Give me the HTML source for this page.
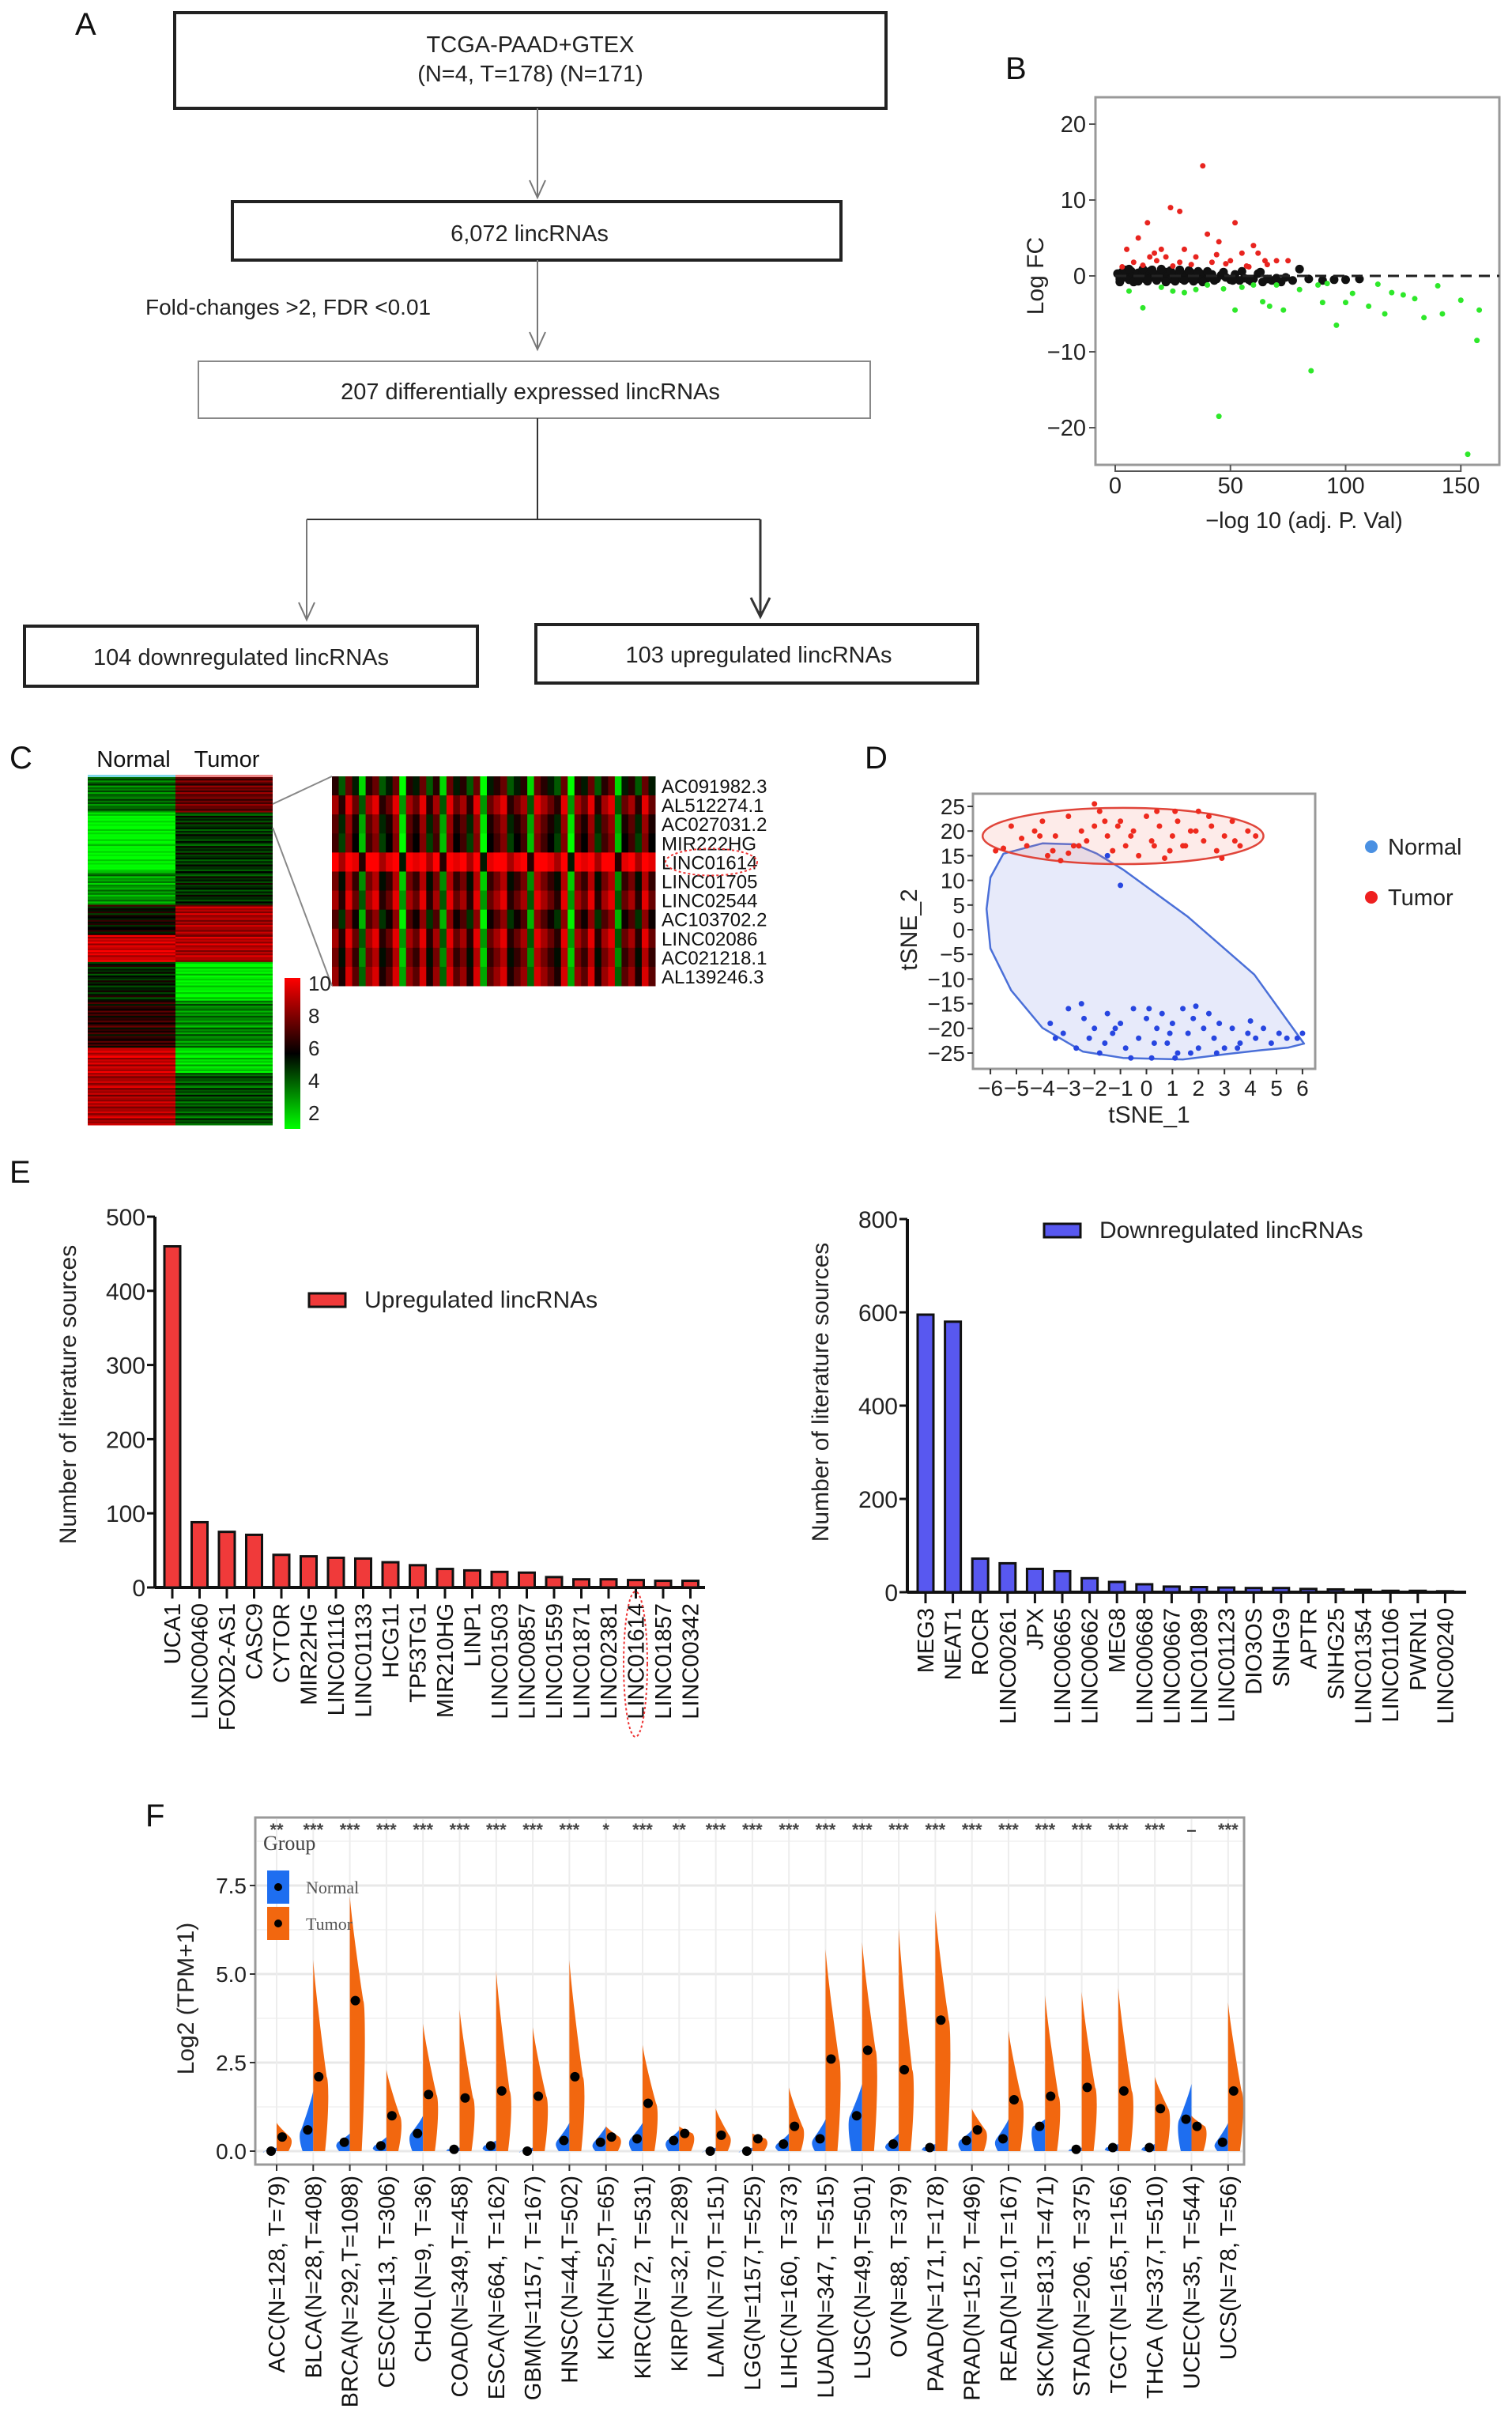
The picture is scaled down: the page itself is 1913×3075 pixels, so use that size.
<!DOCTYPE html>
<html><head><meta charset="utf-8"><title>lincRNA figure</title>
<style>
html,body{margin:0;padding:0;background:#fff;}
svg{display:block;font-family:"Liberation Sans",sans-serif;}
</style></head>
<body>
<svg id="fig" xmlns="http://www.w3.org/2000/svg" width="1913" height="3075" viewBox="0 0 1913 3075">
<rect x="0" y="0" width="1913" height="3075" fill="#fff"/>
<!-- Panel A flowchart -->
<g fill="none" stroke="#222">
  <text x="95" y="44" font-size="40" fill="#111" stroke="none">A</text>
  <rect x="221" y="16" width="900" height="121" stroke-width="4"/>
  <text x="671" y="66" font-size="29" fill="#222" stroke="none" text-anchor="middle">TCGA-PAAD+GTEX</text>
  <text x="671" y="103" font-size="29" fill="#222" stroke="none" text-anchor="middle">(N=4, T=178) (N=171)</text>
  <line x1="680" y1="137" x2="680" y2="249" stroke="#777" stroke-width="2"/>
  <polyline points="670,228 680,250 690,228" stroke="#777" stroke-width="2"/>
  <rect x="294" y="255" width="770" height="74" stroke-width="4"/>
  <text x="670" y="305" font-size="29" fill="#222" stroke="none" text-anchor="middle">6,072 lincRNAs</text>
  <line x1="680" y1="329" x2="680" y2="441" stroke="#777" stroke-width="2"/>
  <polyline points="670,420 680,442 690,420" stroke="#777" stroke-width="2"/>
  <text x="184" y="398" font-size="28" fill="#222" stroke="none">Fold-changes &gt;2, FDR &lt;0.01</text>
  <rect x="251" y="457" width="850" height="72" stroke="#888" stroke-width="2"/>
  <text x="671" y="505" font-size="29" fill="#222" stroke="none" text-anchor="middle">207 differentially expressed lincRNAs</text>
  <line x1="680" y1="529" x2="680" y2="657" stroke="#333" stroke-width="2"/>
  <line x1="388" y1="657" x2="962" y2="657" stroke="#333" stroke-width="2"/>
  <line x1="388" y1="657" x2="388" y2="784" stroke="#777" stroke-width="2"/>
  <polyline points="378,762 388,784 398,762" stroke="#777" stroke-width="2"/>
  <line x1="962" y1="657" x2="962" y2="780" stroke="#333" stroke-width="3"/>
  <polyline points="950,756 962,780 974,756" stroke="#333" stroke-width="3"/>
  <rect x="31" y="792" width="573" height="76" stroke-width="4"/>
  <text x="305" y="841" font-size="29" fill="#222" stroke="none" text-anchor="middle">104 downregulated lincRNAs</text>
  <rect x="678" y="790" width="559" height="74" stroke-width="4"/>
  <text x="960" y="838" font-size="29" fill="#222" stroke="none" text-anchor="middle">103 upregulated lincRNAs</text>
</g>
<g id="panelB"></g>
<g id="panelC"></g>
<g id="panelD"></g>
<g id="panelE"></g>
<g id="panelF"></g>
</svg>
<script>
// ===== Panel B volcano data =====
const volRedX=[38,24,28,14,52,10,40,45,30,60,5,20,62,55,15,35,65,70,75,8,18,28,42,50,12,25,33,58,3,22,48,17,44,57,66];
const volRedY=[14.5,9,8.5,7,7,5,5.5,4.5,3.5,4,3.5,3.5,3,3,2.5,2.5,2,2,2,1.8,2,1.8,1.8,2,1.4,1.3,1.5,1.2,1.2,2.5,1.6,3,2.8,1.3,1.5];
const volGreenX=[45,153,85,157,96,134,142,117,110,67,73,52,158,125,130,150,100,103,90,12,6,20,30,40,55,60,70,80,88,114,120,140,35,25,64,47,92];
const volGreenY=[-18.5,-23.5,-12.5,-8.5,-6.5,-5.5,-5,-5,-4,-4,-4.5,-4.5,-4.5,-2.5,-3,-3.2,-3.5,-2.3,-3.5,-4.2,-2,-1.5,-2.2,-1.2,-1.5,-1.2,-1.2,-1.8,-1.2,-1.1,-2.2,-1.3,-1.8,-2,-3.4,-1.7,-1];
const volBlackX=[1,2,3,4,5,6,7,8,9,10,11,12,13,14,15,16,17,18,19,20,21,22,23,24,25,26,27,28,29,30,31,32,33,34,35,36,37,38,39,40,42,44,46,48,50,52,54,56,58,60,62,64,66,68,70,72,74,77,80,84,90,95,100,106,2,4,6,8,10,12,14,16,18,20,22,24,26,28,30,32,34,36,38,40,43,47,51,55,59,63];
const volBlackY=[0.3,-0.4,0.5,-0.2,0.2,-0.5,0.6,0.1,-0.3,0.4,-0.1,0.5,-0.4,0.2,0.6,-0.2,0.3,-0.5,0.1,0.4,-0.3,0.5,0.0,-0.4,0.3,0.1,-0.2,0.5,-0.4,0.2,0.0,-0.3,0.4,-0.1,0.2,-0.4,0.3,-0.2,0.1,-0.3,0.2,-0.4,0.1,-0.2,-0.5,0.2,-0.6,-0.3,-0.5,-0.4,0.3,-0.8,-0.4,-0.6,-0.3,-0.8,-0.2,-0.6,0.9,-0.4,-0.6,-0.5,-0.5,-0.4,-0.8,0.8,0.9,-0.8,-0.7,0.9,-0.7,0.8,-0.6,0.9,-0.8,0.7,-0.7,0.8,-0.6,0.7,-0.7,0.6,-0.8,0.6,-0.6,0.5,-0.6,0.6,-0.7,0.5];
const volYTicks=[20,10,0,-10,-20];
const volXTicks=[0,50,100,150];

// ===== Panel C heatmap data =====
const hmBandRows=[21,35,20,18,16,23,28,15,31];
const hmNormalVals=[4.3,2.0,3.6,6.0,9.2,5.5,6.6,9.0,8.6];
const hmTumorVals=[7.6,5.3,5.4,8.6,8.8,2.3,4.0,2.6,4.8];
const hmRowMod=[0,0.8,-0.6,0.3,1.1,-0.9,0.2,-0.3,0.7,-1.0,0.4,0,-0.5,0.9,-0.2,0.6,-0.8,0.1];
const zoomGenes=["AC091982.3","AL512274.1","AC027031.2","MIR222HG","LINC01614","LINC01705","LINC02544","AC103702.2","LINC02086","AC021218.1","AL139246.3"];
const zoomRowBase=[5.6,7.6,6.4,6.0,9.6,6.8,7.6,6.2,7.6,6.8,7.4];
const zoomColMod=[1,-1,2,0,-3,1,2,-1,0,2,-4,1,0,2,-1,1,-3,2,0,1,-1,2,-4,0,1,2,-1,0,1,-3,2,1,0,-1,2,-4,1,0,2,-1,1,2,-3,0,1,-1,2,0];
const cbarTicks=[10,8,6,4,2];

// ===== Panel D tSNE data =====
const tumorX=[-5.8,-5.5,-5.2,-4.8,-4.6,-4.3,-4.0,-3.8,-3.5,-3.3,-3.0,-2.8,-2.5,-2.3,-2.0,-1.8,-1.5,-1.3,-1.0,-0.8,-0.5,-0.3,0.0,0.2,0.5,0.7,1.0,1.2,1.5,1.7,2.0,2.2,2.5,2.7,3.0,3.3,3.6,3.9,4.2,-3.6,-2.6,-1.6,-0.6,0.4,1.4,2.4,3.4,-1.1,0.9,1.9,-2.0,-4.1,-3.0,0.3,2.9,1.1];
const tumorY=[16,16.5,21,18.5,17,20,22,15,19,14,23,17,20,18,21,24,19,16,22,17,20,15,23,18,21,14.5,19,22,17,20,24,18,21,16,19,22,17,20,19,16,17,22,19,24,17,23,18,21,16,20,25.5,19,15.5,17,14.5,24];
const normalX=[-3.7,-3.5,-3.2,-3.0,-2.7,-2.4,-2.2,-2.0,-1.8,-1.5,-1.3,-1.0,-0.8,-0.5,-0.3,0.0,0.2,0.4,0.6,0.8,1.0,1.2,1.4,1.6,1.8,2.0,2.2,2.4,2.6,2.8,3.0,3.3,3.6,3.9,4.2,4.5,4.8,5.1,5.4,5.8,6.0,-1.6,-0.6,0.3,1.1,1.9,2.7,3.5,-2.5,-1.2,0.1,0.9,1.7,4.0,-1.0,-1.5];
const normalY=[-19,-22,-21,-16,-24,-18,-22,-20,-25,-17,-21,-19,-24,-16,-22,-18,-26,-20,-17,-23,-19,-25,-16,-21,-18,-24,-20,-17,-22,-19,-24,-20,-23,-21,-22,-20,-23,-21,-22,-22,-21,-23,-26,-23,-26,-15.5,-25,-24,-15,-20,-16,-21,-25,-18.5,9,15];
const tsneTicksX=[-6,-5,-4,-3,-2,-1,0,1,2,3,4,5,6];
const tsneTicksY=[25,20,15,10,5,0,-5,-10,-15,-20,-25];

// ===== Panel E bar data =====
const upGenes=["UCA1","LINC00460","FOXD2-AS1","CASC9","CYTOR","MIR22HG","LINC01116","LINC01133","HCG11","TP53TG1","MIR210HG","LINP1","LINC01503","LINC00857","LINC01559","LINC01871","LINC02381","LINC01614","LINC01857","LINC00342"];
const upValues=[460,88,75,71,44,42,40,39,34,30,25,23,21,20,14,11,11,10,9,9];
const upTicks=[0,100,200,300,400,500];
const downGenes=["MEG3","NEAT1","ROCR","LINC00261","JPX","LINC00665","LINC00662","MEG8","LINC00668","LINC00667","LINC01089","LINC01123","DIO3OS","SNHG9","APTR","SNHG25","LINC01354","LINC01106","PWRN1","LINC00240"];
const downValues=[595,580,72,62,50,45,30,22,17,12,11,10,9,9,7,6,5,3,3,2];
const downTicks=[0,200,400,600,800];

// ===== Panel F violin data =====
const cancerLabels=["ACC(N=128, T=79)","BLCA(N=28,T=408)","BRCA(N=292,T=1098)","CESC(N=13, T=306)","CHOL(N=9, T=36)","COAD(N=349,T=458)","ESCA(N=664, T=162)","GBM(N=1157, T=167)","HNSC(N=44,T=502)","KICH(N=52,T=65)","KIRC(N=72, T=531)","KIRP(N=32,T=289)","LAML(N=70,T=151)","LGG(N=1157,T=525)","LIHC(N=160, T=373)","LUAD(N=347, T=515)","LUSC(N=49,T=501)","OV(N=88, T=379)","PAAD(N=171,T=178)","PRAD(N=152, T=496)","READ(N=10,T=167)","SKCM(N=813,T=471)","STAD(N=206, T=375)","TGCT(N=165,T=156)","THCA (N=337,T=510)","UCEC(N=35, T=544)","UCS(N=78, T=56)"];
const normalMedian=[0,0.6,0.25,0.15,0.5,0.05,0.15,0,0.3,0.25,0.35,0.3,0,0,0.2,0.35,1.0,0.2,0.1,0.3,0.35,0.7,0.05,0.1,0.1,0.9,0.25];
const normalMax=[0.1,1.7,0.5,0.4,1.0,0.1,0.3,0.1,0.8,0.7,0.8,0.6,0.1,0.1,0.5,0.9,1.9,0.5,0.2,0.6,0.9,0.9,0.1,0.2,0.2,1.9,0.8];
const tumorMedian=[0.4,2.1,4.25,1.0,1.6,1.5,1.7,1.55,2.1,0.4,1.35,0.5,0.45,0.35,0.7,2.6,2.85,2.3,3.7,0.6,1.45,1.55,1.8,1.7,1.2,0.7,1.7];
const tumorMax=[0.8,5.4,7.2,2.3,3.6,4.0,5.1,3.5,5.4,0.7,3.0,0.7,1.2,0.5,1.8,5.7,5.9,6.3,6.8,1.2,3.4,4.4,4.5,4.6,2.1,1.0,4.2];
const sigLabels=["**","***","***","***","***","***","***","***","***","*","***","**","***","***","***","***","***","***","***","***","***","***","***","***","***","–","***"];
const violinYTicks=[0,2.5,5,7.5];

const NS="http://www.w3.org/2000/svg";
function mk(parent,tag,attrs,txt){const e=document.createElementNS(NS,tag);for(const k in attrs)e.setAttribute(k,attrs[k]);if(txt!==undefined)e.textContent=txt;parent.appendChild(e);return e;}

// ---------- Panel B ----------
(function(){
const g=document.getElementById('panelB');
const x=v=>1411+v*2.915, y=v=>349-v*9.6;
let t=mk(g,'text',{x:1272,y:100,'font-size':40,fill:'#111'},'B');


let fr=mk(g,'rect',{x:1386,y:123,width:511,height:465,fill:'none',stroke:'#999','stroke-width':3});


volYTicks.forEach(v=>{
 let l=mk(g,'line',{x1:1378,x2:1386,y1:y(v),y2:y(v),stroke:'#555','stroke-width':2});
 
 
 let tt=mk(g,'text',{x:1374,y:y(v)+10,'font-size':29,'text-anchor':'end',fill:'#222'},v>0?String(v):(v<0?'−'+(-v):'0'));
 
 
});
mk(g,'line',{x1:1411,x2:1848,y1:596,y2:596,stroke:'#555','stroke-width':2});
volXTicks.forEach(v=>{
 let l=mk(g,'line',{x1:x(v),x2:x(v),y1:588,y2:597,stroke:'#555','stroke-width':2});
 
 
 let tt=mk(g,'text',{x:x(v),y:614+10,'font-size':29,'text-anchor':'middle',fill:'#222'},String(v));
 
 
});
let yt=mk(g,'text',{x:1320,y:349,'font-size':30,'text-anchor':'middle',fill:'#222',transform:'rotate(-90 1320 349)'},'Log FC');


let xt=mk(g,'text',{x:1650,y:668,'font-size':29,'text-anchor':'middle',fill:'#222'},'−log 10 (adj. P. Val)');


volBlackX.forEach((v,i)=>{let c=mk(g,'circle',{cx:x(v),cy:y(volBlackY[i]),r:5.5,fill:'#111'});
 
 });
volRedX.forEach((v,i)=>{let c=mk(g,'circle',{cx:x(v),cy:y(volRedY[i]),r:3.5,fill:'#e8241f'});
 
 });
volGreenX.forEach((v,i)=>{let c=mk(g,'circle',{cx:x(v),cy:y(volGreenY[i]),r:3.5,fill:'#2ee82a'});
 
 });
let dl=mk(g,'line',{x1:1411,x2:1897,y1:y(0),y2:y(0),stroke:'#222','stroke-width':3,'stroke-dasharray':'14,9'});


})();

// ---------- Panel C ----------
(function(){
const g=document.getElementById('panelC');
function col(v){v=Math.max(2,Math.min(10,v));if(v<=6){const f=(6-v)/4;return 'rgb(0,'+Math.round(255*f)+',0)';}const f=(v-6)/4;return 'rgb('+Math.round(255*f)+',0,0)';}
let t=mk(g,'text',{x:12,y:972,'font-size':40,fill:'#111'},'C');


let tn=mk(g,'text',{x:169,y:970,'font-size':29,'text-anchor':'middle',fill:'#111'},'Normal');


let tu=mk(g,'text',{x:287,y:970,'font-size':29,'text-anchor':'middle',fill:'#111'},'Tumor');


mk(g,'rect',{x:111,y:980,width:111,height:3,fill:'#7fd8e8'});
mk(g,'rect',{x:222,y:980,width:123,height:3,fill:'#f08a8a'});
const total=hmBandRows.reduce((a,b)=>a+b,0);const H=440,top=983;let acc=0;
hmBandRows.forEach((n,i)=>{
 for(let r=0;r<n;r++){
  const y0=top+(acc+r)/total*H,h=H/total;
  const m=hmRowMod[(acc+r)%hmRowMod.length];
  let a=mk(g,'rect',{x:111,y:y0,width:111,height:h+0.5,fill:col(hmNormalVals[i]+m)});
  
  
  let b=mk(g,'rect',{x:222,y:y0,width:123,height:h+0.5,fill:col(hmTumorVals[i]-m)});
  
  
 }
 acc+=n;
});
// zoomed heatmap
const zx=420,zy=982,zw=409,zh=265,nc=zoomColMod.length,nr=zoomGenes.length;
zoomGenes.forEach((gname,r)=>{
 zoomColMod.forEach((m,c)=>{
  let cell=mk(g,'rect',{x:zx+c*zw/nc,y:zy+r*zh/nr,width:zw/nc+0.5,height:zh/nr+0.5,fill:col(zoomRowBase[r]+m)});
  
  
 });
 let lb=mk(g,'text',{x:837,y:zy+(r+0.5)*zh/nr+9,'font-size':24,fill:'#111'},gname);
 
 
});
let ell=mk(g,'ellipse',{cx:900,cy:zy+4.5*zh/nr,rx:58,ry:17,fill:'none',stroke:'#e33','stroke-width':2,'stroke-dasharray':'3,3'});


mk(g,'line',{x1:345,y1:1017,x2:420,y2:982,stroke:'#888','stroke-width':2});
mk(g,'line',{x1:345,y1:1047,x2:420,y2:1247,stroke:'#888','stroke-width':2});
// colour bar
const cb=mk(g,'defs',{});const lg=mk(cb,'linearGradient',{id:'cbg',x1:0,y1:0,x2:0,y2:1});
mk(lg,'stop',{offset:'0','stop-color':'#ff0000'});mk(lg,'stop',{offset:'0.5','stop-color':'#000'});mk(lg,'stop',{offset:'1','stop-color':'#00ff00'});
let bar=mk(g,'rect',{x:360,y:1237,width:20,height:191,fill:'url(#cbg)'});


cbarTicks.forEach(v=>{
 const yy=1243+(10-v)/8*164;
 let tt=mk(g,'text',{x:390,y:yy+10,'font-size':26,fill:'#222'},String(v));
 
 
});
})();

// ---------- Panel D ----------
(function(){
const g=document.getElementById('panelD');
const x=v=>1450.5+v*32.9, y=v=>1176-v*6.24;
let t=mk(g,'text',{x:1094,y:972,'font-size':40,fill:'#111'},'D');


let fr=mk(g,'rect',{x:1231,y:1004,width:433,height:348,fill:'#fff',stroke:'#999','stroke-width':3});


const hull=[[-5.5,15.4],[-4,17.5],[-2.75,17.3],[-1.9,15.4],[-0.9,12.2],[1.6,2.6],[4.15,-9.1],[6.06,-23.1],[5.46,-23.9],[4.45,-24.4],[3.1,-25.2],[1.4,-26.3],[-0.9,-26],[-2.45,-24.7],[-4,-19.9],[-5.2,-12.3],[-6,-3.8],[-6.15,4.2],[-6,10.6]];
let d='M'+hull.map(p=>x(p[0]).toFixed(1)+','+y(p[1]).toFixed(1)).join(' L')+' Z';
let hp=mk(g,'path',{d:d,fill:'rgba(120,140,230,0.18)',stroke:'#4a6fd8','stroke-width':2.5,'stroke-linejoin':'round'});


let re=mk(g,'ellipse',{cx:x(-0.9),cy:y(19),rx:5.4*32.9,ry:5.7*6.24,fill:'rgba(240,120,110,0.15)',stroke:'#e0453a','stroke-width':2.5});


tumorX.forEach((v,i)=>{let c=mk(g,'circle',{cx:x(v),cy:y(tumorY[i]),r:3.5,fill:'#ee2a1e'});
 
 });
normalX.forEach((v,i)=>{let c=mk(g,'circle',{cx:x(v),cy:y(normalY[i]),r:3.5,fill:'#2746e0'});
 
 });
tsneTicksY.forEach(v=>{
 mk(g,'line',{x1:1224,x2:1231,y1:y(v),y2:y(v),stroke:'#333','stroke-width':2});
 let tt=mk(g,'text',{x:1221,y:y(v)+10,'font-size':28,'text-anchor':'end',fill:'#222'},v<0?'−'+(-v):String(v));
 
 
});
tsneTicksX.forEach(v=>{
 mk(g,'line',{x1:x(v),x2:x(v),y1:1352,y2:1359,stroke:'#333','stroke-width':2});
 let tt=mk(g,'text',{x:x(v),y:1386,'font-size':28,'text-anchor':'middle',fill:'#222'},v<0?'−'+(-v):String(v));
 
 
});
let yt=mk(g,'text',{x:1160,y:1176,'font-size':30,'text-anchor':'middle',fill:'#222',transform:'rotate(-90 1160 1176)'},'tSNE_2');


let xt=mk(g,'text',{x:1454,y:1420,'font-size':30,'text-anchor':'middle',fill:'#222'},'tSNE_1');


[['Normal','#4a90e2',1071],['Tumor','#ee2020',1135]].forEach(e=>{
 let c=mk(g,'circle',{cx:1735,cy:e[2],r:8,fill:e[1]});
 
 
 let tt=mk(g,'text',{x:1756,y:e[2]+10,'font-size':29,fill:'#222'},e[0]);
 
 
});
})();

// ---------- Panel E ----------
(function(){
const g=document.getElementById('panelE');
let t=mk(g,'text',{x:12,y:1496,'font-size':40,fill:'#111'},'E');


function chart(opt){
 const y=v=>opt.base-v/opt.max*(opt.base-opt.top);
 const xc=i=>opt.x0+i*opt.step;
 mk(g,'line',{x1:opt.ax,x2:opt.ax,y1:opt.top,y2:opt.base,stroke:'#111','stroke-width':4});
 mk(g,'line',{x1:opt.ax,x2:opt.axEnd,y1:opt.base,y2:opt.base,stroke:'#111','stroke-width':4});
 opt.ticks.forEach(v=>{
  mk(g,'line',{x1:opt.ax-10,x2:opt.ax,y1:y(v),y2:y(v),stroke:'#111','stroke-width':3});
  let tt=mk(g,'text',{x:opt.ax-12,y:y(v)+11,'font-size':30,'text-anchor':'end',fill:'#222'},String(v));
  
  
 });
 opt.vals.forEach((v,i)=>{
  let b=mk(g,'rect',{x:xc(i)-10,y:y(v),width:20,height:opt.base-y(v),fill:opt.color,stroke:'#111','stroke-width':3});
  
  
  mk(g,'line',{x1:xc(i),x2:xc(i),y1:opt.base,y2:opt.base+14,stroke:'#111','stroke-width':3});
  let tt=mk(g,'text',{x:0,y:0,'font-size':29,'text-anchor':'end',fill:'#111',transform:'translate('+(xc(i)+10)+','+(opt.base+20)+') rotate(-90)'},opt.names[i]);
  
  
 });
 let yt=mk(g,'text',{x:opt.tx,y:opt.ty,'font-size':30,'text-anchor':'middle',fill:'#222',transform:'rotate(-90 '+opt.tx+' '+opt.ty+')'},'Number of literature sources');
 
 
 let lr=mk(g,'rect',{x:opt.lx,y:opt.ly,width:46,height:17,fill:opt.color,stroke:'#111','stroke-width':3});
 
 
 let lt=mk(g,'text',{x:opt.lx+70,y:opt.ly+18,'font-size':30,fill:'#222'},opt.legend);
 
 
}
chart({ax:196,axEnd:892,top:1539,base:2008,max:500,ticks:upTicks,vals:upValues,names:upGenes,x0:218,step:34.5,color:'#f03a3a',tx:96,ty:1764,lx:391,ly:1636,legend:'Upregulated lincRNAs'});
chart({ax:1148,axEnd:1855,top:1542,base:2014,max:800,ticks:downTicks,vals:downValues,names:downGenes,x0:1171,step:34.6,color:'#5858f0',tx:1048,ty:1761,lx:1321,ly:1548,legend:'Downregulated lincRNAs'});
let hl=mk(g,'ellipse',{cx:804,cy:2105,rx:15,ry:92,fill:'none',stroke:'#e33','stroke-width':2,'stroke-dasharray':'3,3'});


})();

// ---------- Panel F ----------
(function(){
const g=document.getElementById('panelF');
const x=i=>350+i*46.3, y=v=>2721-v*44.8;
let t=mk(g,'text',{x:184,y:2310,'font-size':40,fill:'#111'},'F');


let fr=mk(g,'rect',{x:323,y:2299,width:1251,height:439,fill:'#fff',stroke:'#999','stroke-width':3});


[1.25,3.75,6.25,8.75].forEach(v=>mk(g,'line',{x1:325,x2:1572,y1:y(v),y2:y(v),stroke:'#f4f4f4','stroke-width':2}));
violinYTicks.forEach(v=>{
 let gl=mk(g,'line',{x1:325,x2:1572,y1:y(v),y2:y(v),stroke:'#e8e8e8','stroke-width':3});
 
 
 mk(g,'line',{x1:316,x2:323,y1:y(v),y2:y(v),stroke:'#333','stroke-width':2});
 let tt=mk(g,'text',{x:312,y:y(v)+10,'font-size':28,'text-anchor':'end',fill:'#222'},v.toFixed(1));
 
 
});
cancerLabels.forEach((lab,i)=>mk(g,'line',{x1:x(i),x2:x(i),y1:2301,y2:2736,stroke:'#ededed','stroke-width':2}));
let yt=mk(g,'text',{x:245,y:2528,'font-size':30,'text-anchor':'middle',fill:'#222',transform:'rotate(-90 245 2528)'},'Log2 (TPM+1)');


function half(cx,dir,med,mx,w){
 const y0=y(0),ym=y(med),yt=y(mx);
 const wb=w*0.75;
 return 'M'+cx+','+y0+' L'+(cx+dir*wb)+','+y0+' C'+(cx+dir*w)+','+((y0+ym)/2)+' '+(cx+dir*w)+','+(ym+4)+' '+(cx+dir*w*0.85)+','+ym+
  ' C'+(cx+dir*w*0.5)+','+(ym-(ym-yt)*0.35)+' '+(cx+dir*2)+','+(yt+(ym-yt)*0.2)+' '+cx+','+yt+' Z';
}
cancerLabels.forEach((lab,i)=>{
 const cx=x(i);
 let nv=mk(g,'path',{d:half(cx,-1,normalMedian[i],normalMax[i],18),fill:'#1e6ef0'});
 
 
 let tv=mk(g,'path',{d:half(cx,1,tumorMedian[i],tumorMax[i],20),fill:'#f2670f'});
 
 
 let nd=mk(g,'circle',{cx:cx-7,cy:y(normalMedian[i]),r:6,fill:'#000'});
 
 
 let td=mk(g,'circle',{cx:cx+7,cy:y(tumorMedian[i]),r:6,fill:'#000'});
 
 
 let st=mk(g,'text',{x:cx,y:2322,'font-size':22,'font-weight':'bold','text-anchor':'middle',fill:'#444'},sigLabels[i]);
 
 
 mk(g,'line',{x1:cx,x2:cx,y1:2738,y2:2746,stroke:'#333','stroke-width':2});
 let tt=mk(g,'text',{x:0,y:0,'font-size':29,'text-anchor':'end',fill:'#111',transform:'translate('+(cx+10)+',2752) rotate(-90)'},lab);
 
 
});
let gt=mk(g,'text',{x:333,y:2340,'font-size':26,fill:'#444','font-family':'Liberation Serif, serif'},'Group');


[['Normal','#1e6ef0',2366],['Tumor','#f2670f',2412]].forEach(e=>{
 let r=mk(g,'rect',{x:338,y:e[2],width:28,height:42,fill:e[1]});
 
 
 mk(g,'circle',{cx:352,cy:e[2]+21,r:5,fill:'#000'});
 let tt=mk(g,'text',{x:387,y:e[2]+29,'font-size':22,fill:'#555','font-family':'Liberation Serif, serif'},e[0]);
 
 
});
})();
</script>
</body></html>
